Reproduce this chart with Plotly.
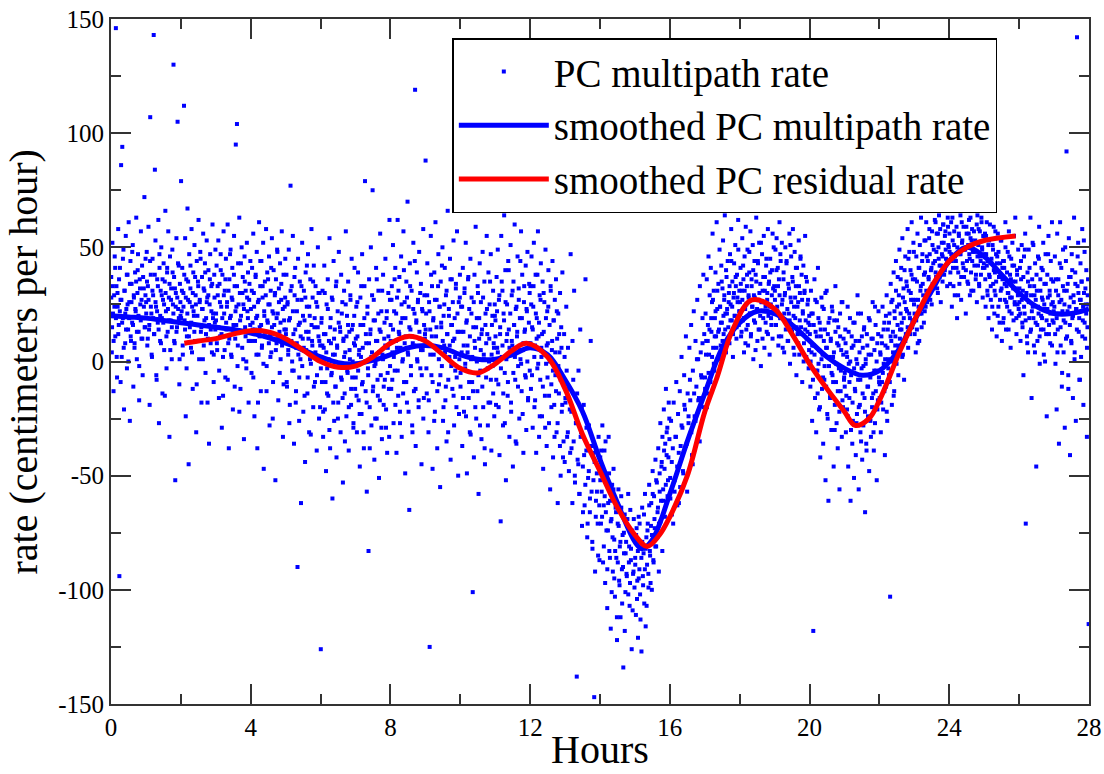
import plotly.graph_objects as go

# Scatter: PC multipath rate. Two interleaved sample sets, one row per hour,
# samples regularly spaced within each hour.
rate_rows = [
    [37, 4, 52, 21, -13, 29, 46, 11, 146, 33, -7, 24, 58, 16, -94, 41, 27, 86, 2, 94, 19, 49, -21, 31, 8, 55, 23, -3, 38, 14, 61, 26, -26, 44, 9, 34, 17, 51, -11, 28, 6, 39, 22, 63, 1, 30, 47, 13, -17, 36, 25, 57, 10, 42, -6, 19, 32, 72, 15, 45],
    [26, 48, 7, 33, 59, 14, -19, 107, 38, 21, 2, 45, 29, 143, 12, 84, 53, 24, -8, 36, 17, 62, -27, 41, 9, 31, 50, 19, -14, 27, 43, 5, 35, 66, 22, -3, 39, 13, 57, 28, -33, 46, 18, 32, 1, 49, 25, 130, 37, 8, -52, 30, 54, 15, 105, 23, 42, -10, 34, 20],
    [79, 22, 41, 3, 30, 112, 18, 54, -24, 36, 11, 67, 27, -45, 47, 15, 32, 6, 58, 24, -12, 39, 20, 51, 9, 29, -31, 44, 16, 35, 62, 1, 26, 48, 13, -18, 37, 23, 56, 7, 31, 43, -5, 19, 53, 28, 10, 40, -36, 25, 47, 14, 33, 4, 60, 21, -9, 38, 17, 49],
    [18, 42, 5, 29, 53, -16, 34, 11, 47, 24, -29, 38, 2, 57, 21, 31, -7, 45, 14, 26, 60, 8, -38, 36, 19, 49, 3, 28, 41, -21, 16, 55, 33, 10, 95, 24, 104, -2, 43, 13, 63, 30, -12, 20, 50, 6, 37, 25, -34, 46, 15, 31, 0, 52, 22, 39, -18, 27, 9, 44],
    [23, -5, 41, 14, 56, 30, -24, 9, 37, 19, 48, -38, 26, 3, 61, 15, 33, -13, 44, 7, 28, 52, -47, 20, 35, 11, 58, -2, 39, 17, 25, 46, -28, 12, 31, 4, 54, 22, -9, 40, 16, 29, -52, 36, 8, 49, 21, -17, 32, 13, 43, 1, 27, 57, 10, -33, 38, 18, 24, 45],
    [14, 38, -11, 26, 3, 49, -27, 19, 77, 8, 33, -4, 55, 12, -36, 29, 41, -18, 6, 22, -90, 45, 16, -7, 35, 1, -62, 27, 52, 10, -22, 31, 18, -44, 39, 5, 24, -14, 47, 13, -31, 20, 36, -1, 58, 9, 28, -20, 42, 15, -9, 33, 2, -39, 24, 50, 11, -25, 30, 7],
    [-126, 17, -9, 31, -33, 6, 42, -21, 12, -48, 25, -3, 36, -15, 9, 54, -38, 19, -6, 28, -60, 3, 44, -26, 14, -11, 33, -42, 7, 22, -18, 48, -2, 15, -31, 38, -8, 26, -53, 10, 31, -14, 4, 57, -24, 20, -5, 35, -39, 13, 1, 27, -19, 45, -7, 16, -29, 8, 41, -12],
    [-7, 24, -31, 11, 39, -17, 5, -46, 28, 2, -23, 47, -9, 16, -38, 33, 79, -13, 8, -57, 21, -3, -83, 36, -20, 12, 50, -28, 4, 75, -11, 27, -43, 18, -1, 41, -25, 9, -15, 31, -51, 14, 56, -6, 22, -34, 3, 38, -19, 10, -8, 45, -29, 19, -40, 6, 30, -12, 62, -2],
    [16, -12, 33, 4, 51, -27, 22, -4, 41, 9, -40, 28, 62, -15, 13, 37, -22, 6, 46, -33, 19, 1, 57, -9, 26, -49, 11, 35, -18, 70, 3, 24, -65, 43, 14, -6, 31, -28, 8, 52, -13, 21, 119, -37, 17, 39, 0, 27, -20, 48, 10, -3, 34, -45, 23, 5, 58, -16, 29, 12],
    [88, 21, -14, 43, 8, -31, 26, -125, 14, 55, -6, 33, -47, 18, 3, 39, -22, 61, 11, 27, -38, 5, 47, -10, 24, -55, 35, 15, -2, 50, -26, 20, 7, 41, -17, 29, -35, 12, 66, -8, 23, 2, 45, -43, 16, 36, -12, 9, 53, -28, 19, -4, 32, -20, 57, 13, -50, 26, 1, 38],
    [-11, 24, 4, -37, 41, 13, -22, 32, -3, 52, 17, -49, 7, 36, -16, 23, -31, 45, 1, 28, -9, -101, 15, -42, 38, 6, 59, -25, 19, -13, 30, -58, 10, 43, -4, 26, -34, 14, 48, -20, 3, 35, -45, 21, -7, 55, 12, -28, 39, 0, 25, -18, 47, -39, 16, -2, 31, 8, -24, 20],
    [18, -19, 37, 6, 49, -10, 27, -41, 12, -70, 55, 2, 31, -28, 21, 64, -5, 40, -52, 9, 25, -15, 44, 14, -33, 3, 51, -22, 29, 7, -46, 35, 16, 60, -8, 23, -36, 11, 46, -2, 32, -25, 19, 1, 57, -13, 38, 5, -40, 26, 13, -6, 42, -30, 22, 48, -17, 8, 34, -4],
    [33, -12, 46, 15, -29, 24, 52, -20, 7, 38, -40, 19, -3, 57, 11, -33, 29, -8, 43, 2, -24, 35, -47, 13, 26, -15, 49, -1, -37, 22, 8, 40, -27, 16, -56, 31, -10, 5, 44, -42, 18, -19, 27, -6, 36, -31, 10, -62, 21, -14, 4, 30, -50, 15, -22, 39, -9, -35, 12, -44],
    [-16, 24, -33, 6, -48, -21, 47, -38, -62, -8, 31, -53, -27, -138, -43, -4, -58, 14, -31, -72, -46, -19, -63, 36, -39, -77, -51, -28, -66, 9, -57, -82, -40, -147, -92, -61, -49, -71, -33, -87],
    [-42, -71, -57, -28, -88, -63, -39, -97, -66, -52, -108, -74, -33, -83, -61, -117, -69, -54, -92, -47, -78, -103, -64, -86, -122, -71, -56, -96, -81, -112, -59, -91, -76, -134, -84, -67, -101, -79, -94, -72, -58, -88, -107, -65, -82, -126, -75, -93, -69, -99],
    [-86, -111, -73, -96, -121, -68, -91, -102, -79, -127, -64, -94, -84, -106, -58, -116, -77, -89, -71, -99, -54, -83, -97, -62, -76, -48, -87, -59, -73, -43, -81, -53, -66, -38, -71, -49, -27, -61, -44, -33, -56, -21, -47, -36, -12, -41, -29, -52, -18, -34],
    [-51, -26, -67, -38, -18, -57, -33, -9, -46, -23, -62, -13, -37, 2, -29, -49, -6, -21, 11, -36, -14, -27, 6, -17, 16, -41, -4, 22, -24, 9, -11, 27, 1, -16, 33, 4, -7, 19, 38, 12],
    [-7, 21, 9, 36, -14, 16, 46, 3, 29, -9, 41, 13, 26, 56, 6, 31, -4, 19, 39, 11, 61, 23, 1, 34, 14, 49, 24, 7, 42, 17, 32, 53, 12, 27, 64, 21, 4, 37, 23, 44, 15, 30, 8, 47, 25, 58, 18, 35, 2, 28, 43, 20, 51, 33, 10, 38, 26, 62, 16, 31],
    [26, 41, 11, 31, 54, 18, 36, 4, 46, 23, 59, 14, 33, 49, 7, 28, 39, 21, 57, 12, 36, 24, 51, 1, 29, 44, 17, 38, 63, 22, 9, 43, 27, 52, 14, 34, -2, 26, 47, 31, 19, 55, 6, 37, 24, 42, 13, 30, 58, 20, 35, 3, 45, 25, 16, 40, 10, 32, 50, 22],
    [31, 49, 16, 54, 24, 41, 7, 36, 61, 19, 44, 11, 52, 27, 74, 39, 4, 29, 50, 17, 43, 66, 9, 34, 21, 56, -1, 28, 46, 14, 37, 58, 6, 24, 48, 19, 33, -6, 41, 12, 26, 53, 3, 30, 45, 15, 38, -9, 22, 42, 8, 31, 55, 18, 2, 35, 13, 27, -3, 20],
    [16, -11, 31, 4, -26, 21, -118, 7, 36, -16, 13, -31, 26, -4, 41, -1, -21, 17, -42, 11, 28, -12, 3, -36, 23, -8, 14, -52, 6, 31, -23, 12, -61, -2, 19, -15, 9, -30, 24, -6, 2, -46, 18, -19, 33, -9, -27, 8, -38, 15, -3, -56, 21, -13, 5, -33, 26, -20, 10, -7],
    [-11, 14, -31, 4, -21, 24, -46, -1, -16, 19, -61, -6, 11, -36, -26, 7, -51, 17, -13, -41, 1, -23, 29, -8, -56, 9, -19, -31, 21, -3, -43, 6, -28, 14, -16, -66, -1, -36, 12, -11, -24, 3, -48, 18, -7, -33, 10, -20, 26, -14, -39, 5, -27, 16, -4, -52, 8, -17, 22, -9],
    [-16, 4, -31, 11, -9, 24, -21, -1, 17, -41, 7, -11, 29, -26, 14, 1, -6, 21, -103, 34, 9, -19, 27, 4, 39, -13, 19, 11, 44, -1, 24, 37, 7, 29, 49, 14, 21, 41, 17, 54, 3, 32, -8, 26, 46, 12, 35, 22, 58, 6, 31, 48, 19, 40, 27, 61, 15, 36, 52, 25],
    [21, 36, 4, 46, 14, 56, 27, 41, 9, 51, 31, 63, 21, 44, 34, 71, 17, 53, 39, 24, 61, 46, 29, 76, 37, 54, 47, 27, 66, 41, 57, 34, 69, 49, 81, 44, 61, 37, 56, 73, 30, 50, 64, 42, 58, 26, 68, 47, 35, 60, 52, 78, 40, 57, 45, 70, 33, 63, 51, 75],
    [56, 34, 71, 47, 24, 63, 41, 79, 51, 29, 66, 44, 59, 19, 73, 39, 56, 34, 69, 47, 27, 61, 53, 76, 41, 37, 66, 49, 21, 59, 44, 71, 34, 56, 47, 29, 63, 39, 53, 44, 68, 31, 57, 48, 74, 36, 52, 26, 64, 42, 58, 33, 70, 46, 38, 61, 50, 28, 55, 43],
    [41, 56, 24, 47, 61, 31, 44, 19, 53, 37, 66, 27, 43, 14, 51, 34, 59, 21, 39, 29, 47, 11, 46, 56, 24, 37, 17, 43, 31, 53, 9, 36, 44, 19, 41, 27, 61, 14, 33, 24, 48, 30, 57, 22, 38, 6, 45, 28, 52, 35, 18, 42, 26, 63, 32, 12, 40, 25, 49, 20],
    [26, 41, 9, 36, 51, 17, 31, -6, 46, 21, 56, -71, 29, 11, 39, 4, 49, 19, 33, 63, 14, -16, 36, 24, 51, 7, 29, 43, 17, -46, 31, 9, 46, 21, 59, -1, 36, 14, 41, 19, 27, 52, 3, 34, 23, 47, 12, -24, 38, 28, 55, 16, 31, 8, 44, 25, 61, 18, 35, 22],
    [21, 46, -1, 31, -21, 56, 14, 36, -36, 26, 61, 7, 41, -11, 22, 49, 4, 31, -29, 17, 44, 92, 11, 34, -6, 54, 24, -41, 37, 9, 47, 19, -16, 29, 63, 4, 39, -26, 23, 142, 33, 52, 13, -8, 27, 43, 2, 35, 58, 18, -19, 30, 48, 10, 25, 40, -33, 15, 36, -115],
]

rate_rows_b = [
    [28, 15, 33, 9, 24, 41, 19, 2, 30, 12, 36, 22, -9, 27, 17, 45, 6, 31, 21, 14, 38, 25, 0, 19, 34, 11, 26, 48, 16, 29, 8, 23, 35, 13, 40, 20, -2, 32, 18, 27, 10, 37, 24, 15, 29],
    [21, 35, 10, 27, 16, 44, 24, 3, 31, 19, 12, 38, 26, -6, 22, 33, 14, 47, 20, 8, 29, 36, 17, 25, -15, 30, 11, 41, 23, 18, 34, 5, 27, 15, 39, 21, 9, 32, 24, 13, 28, 43, 19, 1, 26],
    [19, 31, 7, 24, 38, 14, 28, -3, 21, 35, 11, 26, 42, 17, 4, 30, 22, 13, 37, 25, -10, 20, 33, 9, 27, 45, 15, 23, 1, 32, 18, 39, 12, 26, -18, 29, 16, 36, 8, 22, 34, 19, 3, 28, 14],
    [21, 8, 33, 15, -4, 26, 40, 12, 19, -15, 29, 5, 36, 17, 24, -8, 31, 10, 47, 20, 2, 27, 14, 38, -11, 22, 16, 33, 7, 25, -22, 18, 43, 13, 30, 1, 23, 35, 11, -3, 28, 19, 9, 34, 16],
    [9, 31, 17, -7, 24, 14, 38, 3, 20, -18, 27, 11, 44, 16, 6, 33, -1, 22, 13, 29, -13, 18, 36, 8, 25, 2, 41, 15, -25, 21, 12, 30, 5, 19, 48, 10, 26, -5, 17, 34, 7, 23, -10, 14, 28],
    [12, -9, 25, 5, 18, -19, 31, 9, 0, 22, -4, 37, 14, -13, 8, 27, 3, -26, 17, 11, 33, -2, 20, 6, -15, 28, 13, 42, -7, 10, 24, 1, -32, 16, 7, 35, -11, 19, 4, 26, -6, 15, 30, 9, -20],
    [-3, 19, 7, -22, 12, 30, -9, 4, -14, 23, 1, -30, 15, 8, -5, 27, -18, 10, 3, -11, 35, 6, -25, 17, -1, 13, -7, 21, -16, 9, 2, -35, 25, 11, -4, 16, -20, 5, 29, -12, 14, 0, -27, 20, 7],
    [10, -15, 26, -4, 3, -23, 16, 33, -10, 6, -31, 19, 0, 12, -18, 24, -6, 8, -38, 14, 2, 29, -13, 18, -2, -25, 9, 36, -8, 21, 4, -17, 13, -29, 31, 1, -11, 17, 7, -21, 22, -5, 11, -33, 27],
    [9, 27, -8, 14, 2, 36, -19, 21, 6, -4, 31, 12, -27, 17, 25, 0, -14, 40, 8, 19, -9, 28, 4, -22, 15, 33, -2, 11, -31, 23, 7, 44, -12, 18, 1, 26, -17, 13, 30, 5, -6, 22, -25, 16, 10],
    [14, -3, 29, 8, -17, 22, 3, 38, 11, -9, 19, -26, 27, 6, 15, -13, 33, 1, 24, -6, 17, 42, 9, -20, 25, 4, -11, 31, 12, -31, 20, 7, 36, -2, 16, 26, -15, 10, 2, 34, -7, 21, 13, -23, 28],
    [-5, 13, 24, -16, 7, 30, -1, -24, 18, 4, 37, -9, 11, -32, 21, 2, -13, 26, 9, -20, 15, 0, 33, -6, 19, -28, 5, 12, -11, 28, 1, -38, 16, 8, 23, -3, -18, 10, 35, -8, 3, 20, -14, 6, 25],
    [11, -8, 22, 4, -20, 29, 15, -3, 35, 7, -14, 18, -27, 26, 1, 12, -9, 40, 6, 21, -18, 9, 31, -5, 16, 2, -35, 24, 13, -11, 27, 5, 44, -1, 19, -23, 8, 33, 14, -7, 23, 0, -16, 17, 30],
    [8, 25, -6, 14, 33, 2, -17, 21, 10, 38, -1, 17, -24, 27, 6, 12, -11, 30, 3, -29, 19, 7, -7, 24, -15, 0, 33, -20, 9, -4, 18, -33, 4, -13, 22, -27, -2, 12, -37, -8, 6, -19, -42, -10, 2],
    [-18, -4, -31, -12, -40, -22, 9, -35, -50, -27, -14, -45, -58, -33, -20, -66, -41, -54, -29, -71, -48, -60, -37, -79, -52, -44, -68, -57, -85, -63],
    [-52, -39, -68, -47, -81, -59, -35, -74, -91, -62, -49, -86, -70, -101, -77, -56, -95, -83, -66, -112, -88, -72, -98, -79, -64, -106, -90, -75, -118, -84, -93, -69, -102, -81, -97, -87, -74, -109, -92, -78],
    [-89, -76, -104, -83, -95, -71, -113, -86, -79, -98, -67, -91, -82, -107, -74, -93, -63, -85, -72, -100, -58, -88, -69, -81, -52, -77, -64, -92, -57, -70, -46, -83, -61, -39, -68, -54, -31, -59, -42, -25],
    [-60, -44, -71, -52, -33, -63, -40, -55, -28, -48, -19, -37, -57, -24, -8, -31, -45, -14, -26, 1, -17, -35, -6, 8, -20],
    [-12, 3, -20, 9, -5, 14, -9, 19, 2, 27, -1, 11, 22, 6, 31, 13, 1, 24, 17, 35, 9, 20, 29, 14, 40, 21, 10, 26, 33, 18, 44, 24, 12, 30, 20, 37, 15, 28, 49, 22],
    [22, 34, 13, 27, 42, 19, 31, 8, 25, 38, 16, 29, 48, 21, 11, 33, 24, 40, 18, 28, 5, 35, 23, 44, 14, 30, 20, 52, 26, 10, 37, 22, 31, 17, 45, 27, 12, 34, 24, 39, 19, 29, 56, 21, 33],
    [27, 16, 40, 22, 33, 11, 29, 47, 19, 25, 6, 36, 21, 30, 14, 44, 23, 9, 32, 18, 51, 26, 13, 35, 20, 3, 28, 41, 15, 24, 8, 33, 18, 46, 12, 27, 21, 0, 30, 14, 37, 10, 25, 17, 5],
    [12, 0, 21, 7, -8, 16, 3, 27, -4, 11, -14, 19, 5, -20, 14, 1, 24, -7, 9, -2, 30, -11, 6, -25, 17, 2, -16, 10, -5, 22, -9, 4, -30, 13, -1, 18, -13, 7, -22, 11, -4, 26, -17, 3, -8],
    [-5, 8, -15, 2, -24, 13, -9, 0, -30, 6, -18, 17, -3, -12, 9, -27, -1, 21, -20, 4, -8, -35, 11, -14, -2, 15, -22, 1, -39, 7, -11, 19, -6, -26, 3, -16, 10, -31, -4, 24, -13, 0, -21, 12, -7],
    [-10, 3, -18, 8, -5, 14, -13, 1, 20, -22, 6, -3, 17, -9, 11, 26, 0, 13, -15, 22, 7, 31, 4, 16, -6, 25, 10, 36, 14, 2, 28, 19, 40, 9, 23, 33, 15, 45, 21, 12, 30, 38, 18, 27, 48],
    [12, 27, 18, 35, 8, 24, 41, 21, 33, 15, 47, 29, 38, 22, 53, 31, 26, 44, 36, 58, 30, 40, 25, 51, 43, 34, 62, 39, 48, 32, 56, 45, 37, 67, 42, 52, 46, 60, 38, 55, 49, 71, 44, 59, 50],
    [48, 39, 61, 44, 53, 33, 57, 46, 68, 41, 50, 29, 55, 47, 64, 37, 52, 43, 59, 49, 72, 40, 56, 35, 51, 62, 45, 54, 31, 58, 48, 66, 42, 53, 38, 60, 46, 51, 34, 57, 44, 63, 49, 41, 55],
    [47, 36, 55, 42, 29, 51, 38, 60, 33, 45, 24, 49, 40, 31, 57, 35, 43, 20, 48, 37, 27, 53, 32, 41, 17, 44, 34, 50, 26, 39, 30, 14, 46, 28, 36, 21, 42, 32, 55, 25, 35, 19, 38, 29, 23],
    [32, 21, 44, 27, 15, 37, 24, 49, 18, 30, 8, 35, 26, 41, 13, 29, 22, 52, 19, 33, 4, 27, 38, 16, 24, 45, 11, 31, 20, 28, 40, 14, 25, 0, 34, 18, 23, 47, 12, 29, 21, 36, 7, 26, 17],
    [24, 12, 36, 19, 4, 29, 21, 43, 15, 27, -5, 33, 18, 25, 50, 10, 31, 22, -12, 37, 16, 28, 8, 40, 20, 26, 1, 34, 23, 14, 46, 30, 19, -8, 27, 35, 11, 24, 53, 17, 32, 21, 6, 29, 25],
]

# Smoothed PC multipath rate (blue)
blue_hours = [0, 0.5, 1, 1.5, 2, 2.5, 3, 3.5, 4, 4.5, 5, 5.5, 6, 6.5, 7, 7.5, 8, 8.5, 9, 9.5,
              10, 10.5, 11, 11.5, 12, 12.5, 13, 13.5, 14, 14.5, 15, 15.2, 15.5, 16, 16.5, 17,
              17.5, 18, 18.5, 19, 19.5, 20, 20.5, 21, 21.5, 22, 22.5, 23, 23.5, 24, 24.5, 25,
              25.5, 26, 26.5, 27, 27.5, 28]
blue_rate = [20, 19.5, 19, 18, 17, 16, 15, 14, 12.5, 10.5, 8, 5, 2, -0.5, -1, 0.5, 3, 6, 7, 6,
             3, 1, 1, 3, 6, 3, -8, -22, -43, -62, -79, -82, -78, -58, -35, -14,
             6, 17, 22, 21, 16, 9, 2, -3, -6, -4, 4, 18, 31, 44, 50, 46,
             38, 30, 24, 21, 21, 23]

# Smoothed PC residual rate (red)
red_hours = [2.1, 2.5, 3, 3.5, 4, 4.5, 5, 5.5, 6, 6.5, 7, 7.5, 8, 8.5, 9, 9.5, 10, 10.5, 11,
             11.5, 11.9, 12.5, 13, 13.5, 14, 14.5, 15, 15.35, 15.7, 16, 16.5, 17, 17.35, 17.8,
             18.35, 19, 19.5, 20, 20.5, 21, 21.3, 21.7, 22, 22.6, 23, 23.5, 24, 24.5, 25, 25.9]
red_rate = [8, 9, 10, 12, 13.5, 13, 10, 5, 0, -2.5, -2, 2, 8, 11, 9, 3, -3, -5, -1,
            5, 8, 2, -12, -32, -48, -64, -76, -81, -76, -68, -50, -22, -7, 14,
            27, 23, 12, -1, -12, -22, -28, -25, -17, 5, 18, 33, 44, 50, 53, 55]

x_ticks = [0, 4, 8, 12, 16, 20, 24, 28]
y_ticks = [-150, -100, -50, 0, 50, 100, 150]
y_tick_labels = ["-150", "-100", "-50", "0", "50", "100", "150"]
x_title = "Hours"
y_title = "rate (centimeters per hour)"

hours = []
rates = []
for rows in (rate_rows, rate_rows_b):
    for h, row in enumerate(rows):
        n = len(row)
        for i, v in enumerate(row):
            hours.append(h + (i + 0.37) / n)
            rates.append(v)

FONT = "Liberation Serif, Times New Roman, serif"
AX = "#333333"

fig = go.Figure()
fig.add_trace(go.Scatter(
    x=hours, y=rates, mode="markers", name="PC multipath rate",
    marker=dict(symbol="square", size=4, color="#0000ff", line=dict(width=0)),
))
fig.add_trace(go.Scatter(
    x=blue_hours, y=blue_rate, mode="lines", name="smoothed PC multipath rate",
    line=dict(color="#0000ff", width=5, shape="spline", smoothing=1.0),
))
fig.add_trace(go.Scatter(
    x=red_hours, y=red_rate, mode="lines", name="smoothed PC residual rate",
    line=dict(color="#ff0000", width=5, shape="spline", smoothing=1.0),
))

axis_common = dict(
    showgrid=False, zeroline=False, showline=True, linecolor=AX, linewidth=2,
    mirror="allticks", ticks="inside", ticklen=20, tickwidth=2, tickcolor=AX,
    tickfont=dict(family=FONT, size=25, color="black"), automargin=False,
)

fig.update_xaxes(
    range=[0, 28], tickmode="array", tickvals=x_ticks, ticktext=[str(v) for v in x_ticks],
    minor=dict(dtick=2, tick0=0, ticks="inside", ticklen=10, tickwidth=2, tickcolor=AX),
    **axis_common,
)
fig.update_yaxes(
    range=[-150, 150], tickmode="array", tickvals=y_ticks, ticktext=y_tick_labels,
    minor=dict(dtick=25, tick0=-150, ticks="inside", ticklen=10, tickwidth=2, tickcolor=AX),
    **axis_common,
)

fig.add_annotation(
    text=x_title, xref="paper", yref="paper", x=0.5, y=-0.0657,
    xanchor="center", yanchor="middle", showarrow=False,
    font=dict(family=FONT, size=40, color="black"),
)
fig.add_annotation(
    text=y_title, xref="paper", yref="paper", x=-0.089, y=0.5, textangle=-90,
    xanchor="center", yanchor="middle", showarrow=False,
    font=dict(family=FONT, size=40, color="black"),
)

fig.update_layout(
    width=1104, height=774,
    margin=dict(l=111, r=15, t=19, b=70),
    plot_bgcolor="white", paper_bgcolor="white",
    showlegend=True,
    legend=dict(
        x=0.349, y=0.972, xanchor="left", yanchor="top",
        bgcolor="white", bordercolor="black", borderwidth=1.5,
        font=dict(family=FONT, size=39, color="black"),
        itemwidth=90, tracegroupgap=0,
    ),
)

fig.write_html("out.html")
